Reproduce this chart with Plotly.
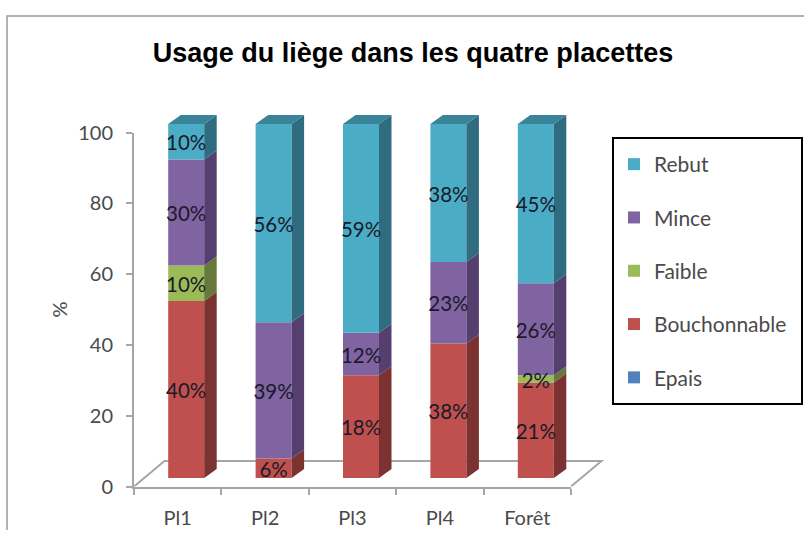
import plotly.graph_objects as go

categories = ["Pl1", "Pl2", "Pl3", "Pl4", "Forêt"]
epais = [0, 0, 0, 0, 0]
bouchonnable = [50, 5.5, 29, 38, 27]
faible = [10, 0, 0, 0, 2]
mince = [30, 38.5, 12, 23, 26]
rebut = [10, 56, 59, 39, 45]

labels_bouchonnable = ["40%", "6%", "18%", "38%", "21%"]
labels_faible = ["10%", "", "", "", "2%"]
labels_mince = ["30%", "39%", "12%", "23%", "26%"]
labels_rebut = ["10%", "56%", "59%", "38%", "45%"]

W, H = 804, 545
AX_L, AX_R = 134, 571      # px of the visible category axis
AX_T, AX_B = 132.5, 486.5  # px of the visible 0-100 axis
PX_X = (AX_R - AX_L) / 5
PX_Y = (AX_B - AX_T) / 100
OV_R, OV_T = 640, 100      # px extent of the second axes carrying the 3D marks

fx = lambda p: p / W
fy = lambda p: 1 - p / H
dxu = lambda p: p / PX_X
dyu = lambda p: p / PX_Y

BAR_W = dxu(36)
SHIFT_X = dxu(8.5)
SHIFT_Y = dyu(8.5)
SIDE_X = dxu(12.5)
SIDE_Y = dyu(9)
LABEL_DROP = dyu(3.5)

series = [
    ("Epais", epais, [""] * 5, "#4F81BD", "#385D8A", 5),
    ("Bouchonnable", bouchonnable, labels_bouchonnable, "#C0504D", "#7C3230", 4),
    ("Faible", faible, labels_faible, "#9BBB59", "#66793A", 3),
    ("Mince", mince, labels_mince, "#8064A2", "#553F6F", 2),
    ("Rebut", rebut, labels_rebut, "#4BACC6", "#2F6C80", 1),
]

fig = go.Figure()
centers = [i + SHIFT_X for i in range(len(categories))]
cum = [SHIFT_Y] * len(categories)
side_traces, text_traces = [], []

for name, vals, labs, col, dark, rank in series:
    if name == "Epais":
        fig.add_trace(go.Bar(
            x=categories, y=vals, name=name, marker=dict(color=col, line_width=0),
            xaxis="x", yaxis="y", legendgroup=name, legendrank=rank, hoverinfo="skip",
        ))
        continue
    fig.add_trace(go.Bar(
        x=centers, y=vals, base=cum, width=BAR_W, name=name,
        marker=dict(color=col, line_width=0), xaxis="x2", yaxis="y2",
        legendgroup=name, legendrank=rank,
    ))
    sx, sy, tx, ty, tt = [], [], [], [], []
    for c, b, v, lab in zip(centers, cum, vals, labs):
        if v > 0:
            r = c + BAR_W / 2
            sx += [r, r + SIDE_X, r + SIDE_X, r, r, None]
            sy += [b, b + SIDE_Y, b + v + SIDE_Y, b + v, b, None]
        if lab:
            tx.append(c)
            ty.append(b + v / 2 - LABEL_DROP)
            tt.append(lab)
    side_traces.append(go.Scatter(
        x=sx, y=sy, mode="lines", fill="toself", fillcolor=dark, line=dict(width=0),
        xaxis="x2", yaxis="y2", showlegend=False, hoverinfo="skip",
    ))
    text_traces.append(go.Scatter(
        x=tx, y=ty, text=tt, mode="text", textposition="middle center",
        textfont=dict(family="Lato", size=20.5, color="#1a1a2a"),
        xaxis="x2", yaxis="y2", showlegend=False, hoverinfo="skip",
    ))
    cum = [b + v for b, v in zip(cum, vals)]

# top faces
tx, ty = [], []
for c, b in zip(centers, cum):
    l, r = c - BAR_W / 2, c + BAR_W / 2
    tx += [l, r, r + SIDE_X, l + SIDE_X, l, None]
    ty += [b, b, b + SIDE_Y, b + SIDE_Y, b, None]
side_traces.append(go.Scatter(
    x=tx, y=ty, mode="lines", fill="toself", fillcolor="#3A8499", line=dict(width=0),
    xaxis="x2", yaxis="y2", showlegend=False, hoverinfo="skip",
))
for t in side_traces + text_traces:
    fig.add_trace(t)

AXC = "#a6a6a6"
TXT = "#4a4a4a"
x0, x1 = -0.5, 4.5
bx, by = dxu(30.5), dyu(25.5)
floor = dict(type="path", xref="x2", yref="y2", layer="below",
             path=f"M {x0} 0 L {x0+bx} {by} L {x1+bx} {by} L {x1} 0",
             line=dict(color=AXC, width=2))
frame = dict(type="path", xref="paper", yref="paper", layer="below",
             path=f"M {fx(7)} {fy(530)} L {fx(7)} {fy(16)} L {fx(804)} {fy(16)}",
             line=dict(color="#9a9a9a", width=1.5))
legend_box = dict(type="rect", xref="paper", yref="paper", layer="above",
                  x0=fx(613), x1=fx(802), y0=fy(404), y1=fy(138),
                  line=dict(color="black", width=2))

fig.update_layout(
    width=W, height=H, autosize=False,
    margin=dict(l=0, r=0, t=0, b=0),
    paper_bgcolor="white", plot_bgcolor="rgba(0,0,0,0)",
    barmode="overlay",
    title=dict(text="Usage du liège dans les quatre placettes",
               x=fx(413), xanchor="center", y=fy(53), yanchor="middle",
               font=dict(family="Liberation Sans", size=27, color="black", weight="bold")),
    font=dict(family="Lato", size=20, color=TXT),
    xaxis=dict(type="category", categoryorder="array", categoryarray=categories,
               domain=[fx(AX_L), fx(AX_R)], anchor="y", tickson="boundaries", automargin=False,
               ticks="outside", ticklen=6, tickwidth=2, tickcolor=AXC,
               showline=True, linecolor=AXC, linewidth=2, showgrid=False, zeroline=False,
               ticklabelstandoff=12, tickfont=dict(family="Lato", size=20, color=TXT)),
    yaxis=dict(domain=[fy(AX_B), fy(AX_T)], range=[0, 100], anchor="x", dtick=20, automargin=False,
               ticks="outside", ticklen=6, tickwidth=2, tickcolor=AXC,
               showline=True, linecolor=AXC, linewidth=2, showgrid=False, zeroline=False,
               ticklabelstandoff=9, tickfont=dict(family="Lato", size=20, color=TXT),
               title=dict(text="%", standoff=5, font=dict(family="Lato", size=20, color=TXT))),
    xaxis2=dict(domain=[fx(AX_L), fx(OV_R)], range=[x0, x0 + (OV_R - AX_L) / PX_X], automargin=False,
                anchor="y2", visible=False, fixedrange=True),
    yaxis2=dict(domain=[fy(AX_B), fy(OV_T)], range=[0, (AX_B - OV_T) / PX_Y], automargin=False,
                anchor="x2", visible=False, fixedrange=True),
    legend=dict(x=fx(614), y=fy(144), xanchor="left", yanchor="top",
                bgcolor="rgba(0,0,0,0)", borderwidth=0, tracegroupgap=23,
                font=dict(family="Lato", size=21, color=TXT), traceorder="grouped"),
    shapes=[floor, frame, legend_box],
    showlegend=True,
)
fig.write_html("out.html", config={"displayModeBar": False},
               post_script="document.body.style.margin='0';")
